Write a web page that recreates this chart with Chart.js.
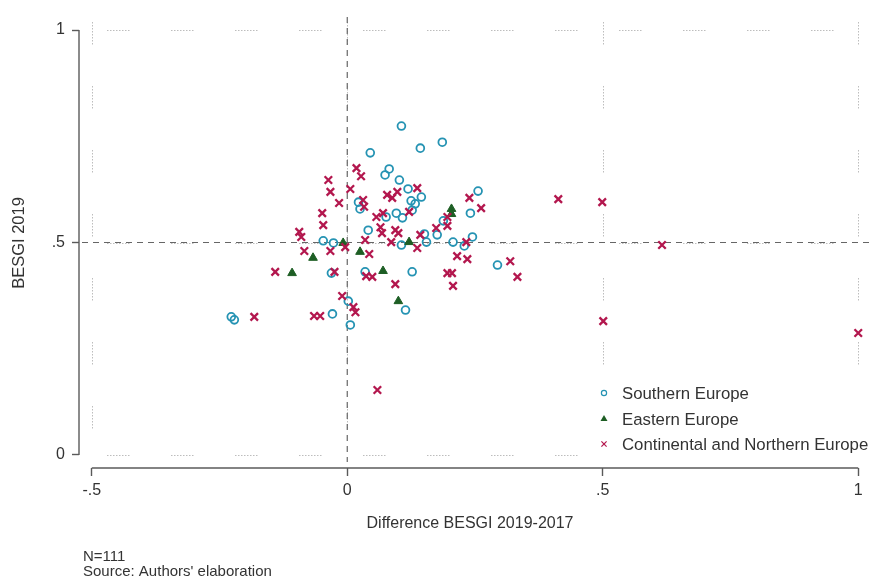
<!DOCTYPE html>
<html>
<head>
<meta charset="utf-8">
<script src="https://cdn.jsdelivr.net/npm/chart.js@4"></script>
<style>
  html, body { margin: 0; padding: 0; background: #fff; }
  #wrap { width: 871px; height: 578px; }
</style>
</head>
<body>
<div id="wrap"><canvas id="c" width="871" height="578"></canvas></div>
<script>
// BESGI 2019 against its change since 2017, one point per region
const southernDiff  = [0.106, 0.045, 0.143, 0.186, 0.082, 0.074, 0.102, 0.119, 0.125, 0.133, 0.145, 0.022, 0.025, 0.076, 0.096, 0.108, 0.127, 0.041, -0.047, -0.027, 0.106, 0.151, 0.155, 0.176, 0.188, 0.207, 0.229, 0.245, 0.241, 0.256, 0.294, -0.031, 0.035, 0.127, 0.114, 0.002, -0.029, 0.006, -0.227, -0.221];
const southernBesgi = [0.774, 0.711, 0.722, 0.736, 0.673, 0.659, 0.647, 0.626, 0.598, 0.591, 0.607, 0.595, 0.579, 0.560, 0.569, 0.558, 0.576, 0.529, 0.504, 0.499, 0.494, 0.520, 0.501, 0.518, 0.551, 0.501, 0.492, 0.513, 0.569, 0.621, 0.447, 0.428, 0.431, 0.431, 0.341, 0.362, 0.332, 0.306, 0.325, 0.318];

const easternDiff  = [0.204, 0.204, 0.121, -0.008, 0.025, -0.067, -0.108, 0.070, 0.100];
const easternBesgi = [0.579, 0.567, 0.501, 0.499, 0.478, 0.464, 0.428, 0.433, 0.362];

const continentalDiff  = [0.018, 0.027, -0.037, -0.033, 0.006, -0.016, 0.031, 0.033, -0.049, -0.047, 0.057, 0.070, 0.078, 0.088, 0.098, 0.137, 0.121, 0.065, 0.068, 0.094, 0.100, 0.086, 0.137, 0.143, 0.174, 0.196, 0.196, 0.233, 0.215, 0.235, 0.239, 0.262, 0.319, 0.333, 0.196, 0.205, 0.207, 0.094, 0.049, 0.037, 0.035, 0.043, -0.004, -0.033, -0.084, -0.094, -0.090, -0.141, -0.025, -0.010, 0.012, 0.016, -0.065, -0.053, -0.182, 0.059, 0.413, 0.499, 0.616, 0.501, 1.000];
const continentalBesgi = [0.675, 0.656, 0.647, 0.619, 0.626, 0.593, 0.600, 0.584, 0.569, 0.541, 0.560, 0.569, 0.612, 0.605, 0.619, 0.628, 0.572, 0.536, 0.522, 0.529, 0.522, 0.501, 0.487, 0.518, 0.534, 0.560, 0.539, 0.501, 0.468, 0.461, 0.605, 0.581, 0.456, 0.419, 0.428, 0.428, 0.398, 0.402, 0.419, 0.421, 0.506, 0.473, 0.489, 0.480, 0.480, 0.525, 0.513, 0.431, 0.431, 0.374, 0.348, 0.336, 0.327, 0.327, 0.325, 0.153, 0.602, 0.595, 0.494, 0.315, 0.287];

const seriesNames = ['Southern Europe', 'Eastern Europe', 'Continental and Northern Europe'];

const xTicks = [-0.5, 0, 0.5, 1];
const xTickLabels = ['-.5', '0', '.5', '1'];
const yTicks = [0, 0.5, 1];
const yTickLabels = ['0', '.5', '1'];

const xTitle = 'Difference BESGI 2019-2017';
const yTitle = 'BESGI 2019';
const notes = ['N=111', "Source: Authors' elaboration"];

const FONT = '"Liberation Sans", Arial, Helvetica, sans-serif';
const TEXT = '#333333';
const AXIS = '#5a5a5a';
const BLUE = '#2593b3';
const GREEN = '#1d5e24';
const RED = '#b3174e';

const pts = (xs, ys) => xs.map((v, i) => ({ x: v, y: ys[i] }));

// light dotted dashes used for the grid
const gridDash = [];
for (let i = 0; i < 8; i++) gridDash.push(1.5, 1.5);
gridDash[gridDash.length - 1] = 41.5;

function seg(ctx, x1, y1, x2, y2) {
  ctx.beginPath(); ctx.moveTo(x1, y1); ctx.lineTo(x2, y2); ctx.stroke();
}

const frame = {
  id: 'frame',
  beforeDatasetsDraw(chart) {
    const { ctx, chartArea: a, scales: { x, y } } = chart;
    ctx.save();
    // faint grid at labelled values
    ctx.strokeStyle = '#bdbdbd';
    ctx.lineWidth = 1;
    ctx.setLineDash(gridDash);
    xTicks.forEach(v => {
      const px = Math.round(x.getPixelForValue(v)) + 0.5;
      ctx.lineDashOffset = -5;
      seg(ctx, px, a.top, px, a.bottom);
    });
    yTicks.forEach(v => {
      const py = Math.round(y.getPixelForValue(v)) + 0.5;
      ctx.lineDashOffset = -28;
      seg(ctx, a.left, py, a.right, py);
    });
    // reference lines at 0 change and 0.5 level
    ctx.strokeStyle = '#666666';
    ctx.lineWidth = 1.2;
    ctx.setLineDash([6, 5]);
    ctx.lineDashOffset = 0;
    const x0 = x.getPixelForValue(0);
    seg(ctx, x0, a.top, x0, a.bottom - 6);
    const yh = y.getPixelForValue(0.5);
    seg(ctx, a.left + 3, yh, a.right, yh);
    // axis lines over the labelled range only
    ctx.setLineDash([]);
    ctx.strokeStyle = AXIS;
    ctx.lineWidth = 1.4;
    seg(ctx, a.left, y.getPixelForValue(0), a.left, y.getPixelForValue(1));
    seg(ctx, x.getPixelForValue(-0.5), a.bottom, x.getPixelForValue(1), a.bottom);
    ctx.restore();
  },
  afterDraw(chart) {
    const { ctx } = chart;
    ctx.save();
    // legend panel
    ctx.fillStyle = '#ffffff';
    ctx.fillRect(588, 375, 283, 90);
    const rows = [393, 418.5, 444];
    const mx = 604;
    rows.forEach((cy, i) => {
      ctx.setLineDash([]);
      if (i === 0) {
        ctx.strokeStyle = BLUE; ctx.lineWidth = 1.2;
        ctx.beginPath(); ctx.arc(mx, cy, 2.6, 0, Math.PI * 2); ctx.stroke();
      } else if (i === 1) {
        ctx.fillStyle = GREEN;
        ctx.beginPath(); ctx.moveTo(mx, cy - 3.5); ctx.lineTo(mx + 3.5, cy + 2.5); ctx.lineTo(mx - 3.5, cy + 2.5); ctx.closePath(); ctx.fill();
      } else {
        ctx.strokeStyle = RED; ctx.lineWidth = 1.2;
        seg(ctx, mx - 2.6, cy - 2.6, mx + 2.6, cy + 2.6);
        seg(ctx, mx - 2.6, cy + 2.6, mx + 2.6, cy - 2.6);
      }
      ctx.fillStyle = TEXT;
      ctx.font = '16.8px ' + FONT;
      ctx.textAlign = 'left';
      ctx.textBaseline = 'alphabetic';
      ctx.fillText(seriesNames[i], 622, cy + 6);
    });
    // axis titles
    ctx.fillStyle = TEXT;
    ctx.font = '16px ' + FONT;
    ctx.textAlign = 'center';
    ctx.textBaseline = 'alphabetic';
    ctx.fillText(xTitle, 470, 528);
    ctx.save();
    ctx.translate(24, 243);
    ctx.rotate(-Math.PI / 2);
    ctx.font = '16.5px ' + FONT;
    ctx.fillText(yTitle, 0, 0);
    ctx.restore();
    // notes
    ctx.font = '15px ' + FONT;
    ctx.textAlign = 'left';
    ctx.fillText(notes[0], 83, 561);
    ctx.fillText(notes[1], 83, 576);
    ctx.restore();
  }
};

Chart.defaults.font.family = FONT;

new Chart(document.getElementById('c'), {
  type: 'scatter',
  data: {
    datasets: [
      {
        label: seriesNames[0], data: pts(southernDiff, southernBesgi), order: 3,
        pointStyle: 'circle', pointRadius: 3.9, pointHoverRadius: 3.9,
        borderColor: BLUE, backgroundColor: 'rgba(0,0,0,0)', borderWidth: 1.8
      },
      {
        label: seriesNames[1], data: pts(easternDiff, easternBesgi), order: 2,
        pointStyle: 'triangle', pointRadius: 5, pointHoverRadius: 5,
        borderColor: GREEN, backgroundColor: GREEN, borderWidth: 1
      },
      {
        label: seriesNames[2], data: pts(continentalDiff, continentalBesgi), order: 1,
        pointStyle: 'crossRot', pointRadius: 5.3, pointHoverRadius: 5.3,
        borderColor: RED, backgroundColor: RED, borderWidth: 2.3
      }
    ]
  },
  options: {
    responsive: false,
    devicePixelRatio: 1,
    animation: false,
    events: [],
    layout: { autoPadding: false, padding: { top: 17, right: 0, left: 0, bottom: 0 } },
    plugins: { legend: { display: false }, tooltip: { enabled: false } },
    scales: {
      x: {
        type: 'linear', position: 'bottom', min: -0.525, max: 1.025,
        afterBuildTicks: s => { s.ticks = xTicks.map(v => ({ value: v })); },
        afterFit: s => { s.height = 110; s.paddingLeft = 0; s.paddingRight = 0; },
        ticks: {
          autoSkip: false, maxRotation: 0, padding: 5, color: TEXT,
          font: { size: 16 },
          callback: v => xTickLabels[xTicks.indexOf(v)]
        },
        grid: { display: true, drawOnChartArea: false, drawTicks: true, tickLength: 8, tickColor: AXIS, tickWidth: 1.4 },
        border: { display: false }
      },
      y: {
        type: 'linear', position: 'left', min: -0.0306, max: 1.0306,
        afterBuildTicks: s => { s.ticks = yTicks.map(v => ({ value: v })); },
        afterFit: s => { s.width = 79; s.paddingTop = 0; s.paddingBottom = 0; },
        ticks: {
          autoSkip: false, padding: 7, color: TEXT,
          font: { size: 16 },
          callback: v => yTickLabels[yTicks.indexOf(v)]
        },
        grid: { display: true, drawOnChartArea: false, drawTicks: true, tickLength: 7, tickColor: AXIS, tickWidth: 1.4 },
        border: { display: false }
      }
    }
  },
  plugins: [frame]
});
</script>
</body>
</html>
